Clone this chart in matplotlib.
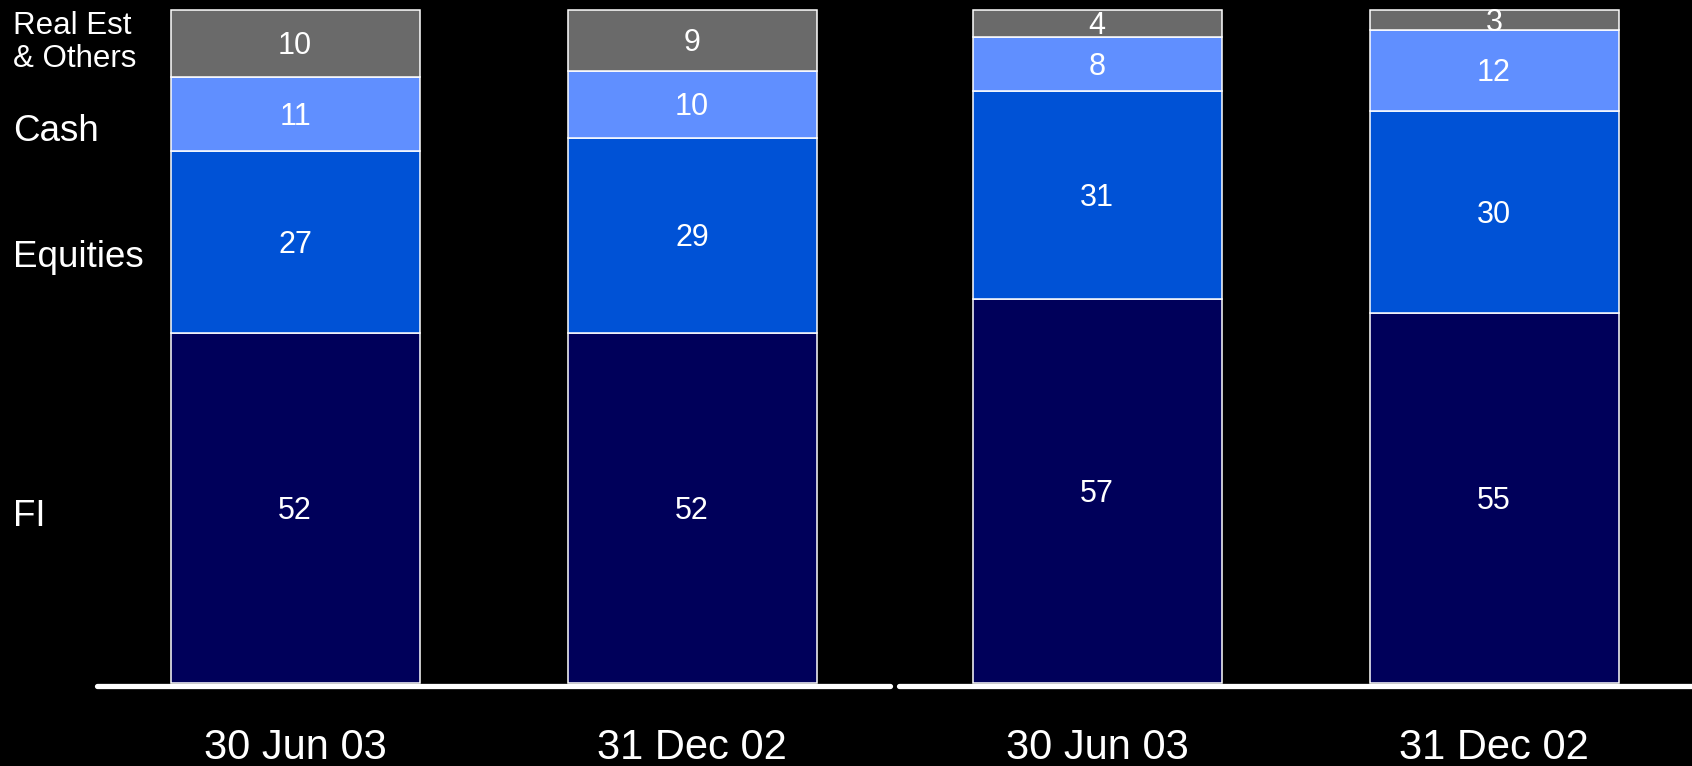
import numpy as np
import matplotlib.pyplot as plt

plt.rcParams['font.family'] = ['Liberation Sans', 'DejaVu Sans']

dates = ["30 Jun 03", "31 Dec 02", "30 Jun 03", "31 Dec 02"]
fi = [52, 52, 57, 55]
equities = [27, 29, 31, 30]
cash = [11, 10, 8, 12]
real_est = [10, 9, 4, 3]

series = [fi, equities, cash, real_est]
colors = ["#00005a", "#0052d6", "#608fff", "#6a6a6a"]
row_labels = ["FI", "Equities", "Cash", "Real Est\n& Others"]

# two groups of two bars, with a slightly wider gap between groups
x = np.array([0.0, 1.0, 2.02, 3.02])
width = 0.627

fig = plt.figure(figsize=(16.92, 7.66), dpi=100, facecolor="black")
ax = fig.add_axes([0, 0, 1, 1])
ax.set_facecolor("black")

bottom = np.zeros(len(x))
for vals, c in zip(series, colors):
    vals = np.array(vals, dtype=float)
    ax.bar(x, vals, width, bottom=bottom, color=c, edgecolor="white", linewidth=1.1, zorder=2)
    for xi, b, v in zip(x, bottom, vals):
        ax.text(xi, b + v / 2 - 0.4, f"{v:.0f}", color="white", fontsize=22,
                ha="center", va="center", zorder=3)
    bottom += vals

# row labels on the left, next to the first bar's segments
cum = np.cumsum([0] + [s[0] for s in series])
offsets = [-1.2, -2.2, -2.6, 0.2]
for i, lab in enumerate(row_labels):
    ymid = (cum[i] + cum[i + 1]) / 2 + offsets[i]
    fs = 22.5 if "\n" in lab else 26.5
    ax.text(0.0077, ymid, lab, transform=ax.get_yaxis_transform(), color="white",
            fontsize=fs, ha="left", va="center", linespacing=1.15)

# baseline under each group
gap_mid = (x[1] + x[2]) / 2
ax.plot([x[0] - 0.498, gap_mid - 0.011], [-0.45, -0.45], color="white", lw=3.8,
        solid_capstyle="round", zorder=4)
ax.plot([gap_mid + 0.011, x[3] + 0.6], [-0.45, -0.45], color="white", lw=3.8,
        solid_capstyle="round", zorder=4)

for xi, d in zip(x, dates):
    ax.text(xi, -9.6, d, color="white", fontsize=30, ha="center", va="center")

ax.set_xlim(-0.7433, 3.5186)
ax.set_ylim(-12.33, 101.49)
ax.axis("off")

fig.savefig("out.png", dpi=100, facecolor="black")
